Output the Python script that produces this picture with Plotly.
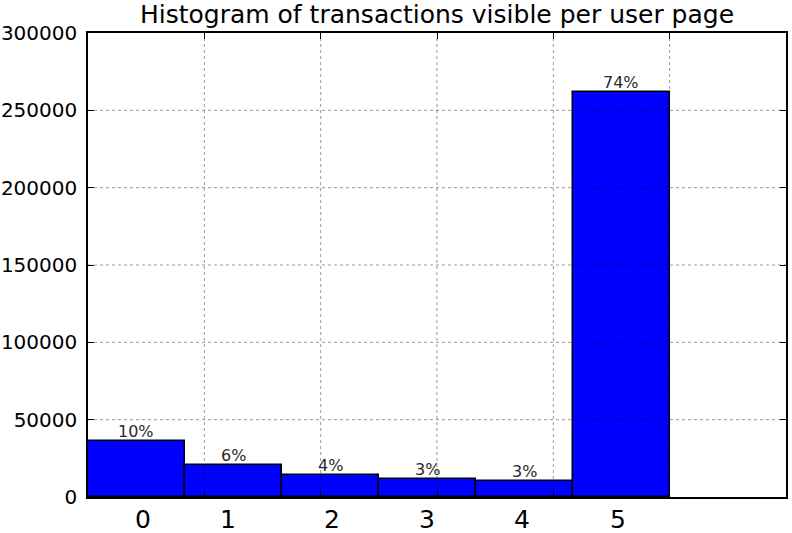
import numpy as np
import plotly.graph_objects as go

# Data
counts = [36200, 20900, 14000, 11400, 10150, 261850]
pct_labels = ["10%", "6%", "4%", "3%", "3%", "74%"]
cat_labels = ["0", "1", "2", "3", "4", "5"]
cat_label_pos = [0.47, 1.2, 2.1, 2.91, 3.73, 4.56]
y_ticks = [0, 50000, 100000, 150000, 200000, 250000, 300000]
x_grid = [1, 2, 3, 4, 5]

edges = np.linspace(0, 5, len(counts) + 1)
centers = (edges[:-1] + edges[1:]) / 2
width = edges[1] - edges[0]

fig = go.Figure()
fig.add_trace(go.Bar(
    x=centers, y=counts, width=width,
    marker=dict(color="#0000ff", line=dict(color="black", width=1.5)),
    hoverinfo="skip",
))

grid_style = dict(color="rgba(0,0,0,0.4)", width=1, dash="3px,3px")
shapes = []
for gx in x_grid:
    shapes.append(dict(type="line", xref="x", yref="paper", x0=gx, x1=gx, y0=0, y1=1,
                       line=grid_style, layer="above"))
for gy in y_ticks[1:-1]:
    shapes.append(dict(type="line", xref="paper", yref="y", x0=0, x1=1, y0=gy, y1=gy,
                       line=grid_style, layer="above"))

annotations = []
for lab, pos in zip(cat_labels, cat_label_pos):
    annotations.append(dict(x=pos, y=0, xref="x", yref="paper", text=lab, showarrow=False,
                            yanchor="top", yshift=-6,
                            font=dict(family="DejaVu Sans", size=25, color="black")))
for c, v, lab in zip(centers, counts, pct_labels):
    annotations.append(dict(x=c, y=v, xref="x", yref="y", text=lab, showarrow=False,
                            yanchor="bottom", yshift=-2,
                            font=dict(family="DejaVu Sans", size=16, color="#2a2a2a")))

W, H = 792, 533
fig.update_layout(
    width=W, height=H,
    margin=dict(l=88, r=6, t=33, b=36, autoexpand=False),
    paper_bgcolor="white", plot_bgcolor="white",
    showlegend=False,
    title=dict(text="Histogram of transactions visible per user page",
               xref="paper", x=0.5, xanchor="center", yref="container", y=1 - 14 / H,
               yanchor="middle", pad=dict(t=0, b=0),
               font=dict(family="DejaVu Sans", size=25, color="black")),
    font=dict(family="DejaVu Sans"),
    bargap=0,
    shapes=shapes,
    annotations=annotations,
)
fig.update_xaxes(range=[0, 6], showgrid=False, zeroline=False, showticklabels=False,
                 tickvals=x_grid, ticks="inside", ticklen=6, tickcolor="black",
                 showline=True, linecolor="black", linewidth=1.5, mirror="ticks",
                 automargin=False)
fig.update_yaxes(range=[0, 300000], showgrid=False, zeroline=False,
                 tickvals=y_ticks, ticktext=[str(v) for v in y_ticks],
                 ticks="inside", ticklen=6, tickcolor="black",
                 tickfont=dict(family="DejaVu Sans", size=20, color="black"),
                 ticklabelstandoff=5,
                 showline=True, linecolor="black", linewidth=1.5, mirror="ticks",
                 automargin=False)

fig.write_html("out.html", config={"displayModeBar": False},
               post_script="document.body.style.margin='0';")
